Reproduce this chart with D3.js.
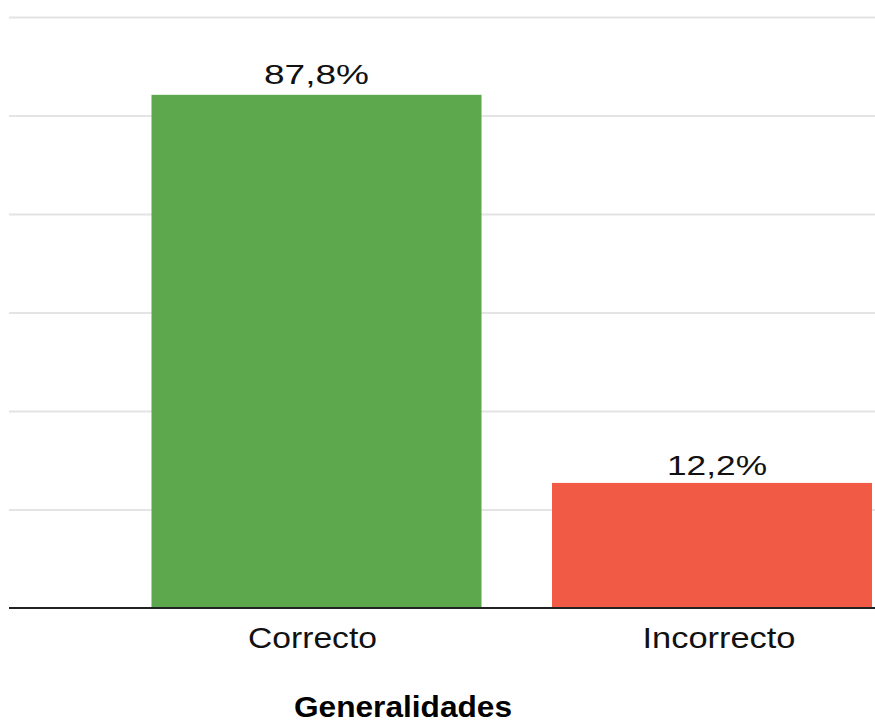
<!DOCTYPE html>
<html>
<head>
<meta charset="utf-8">
<script src="https://cdn.jsdelivr.net/npm/d3@7"></script>
<style>
  html, body { margin: 0; padding: 0; background: #fff; }
  svg { display: block; font-family: "Liberation Sans", Arial, Helvetica, sans-serif; }
</style>
</head>
<body>
<svg id="chart" width="875" height="722"></svg>
<script>
// ---- data ----
const categories = ["Correcto", "Incorrecto"];
const values = [104.2, 25.4];            // bar heights on the (hidden) value axis
const valueLabels = ["87,8%", "12,2%"];
const colors = ["#5da84c", "#f15a45"];
const yTicks = [0, 20, 40, 60, 80, 100, 120];
const axisTitle = "Generalidades";

// ---- layout ----
const svg = d3.select("#chart");
const W = 875, H = 722;
const plotLeft = 9, plotRight = 875, plotTop = 17, plotBottom = 608;

const x = d3.scaleBand()
  .domain(categories)
  .range([116.25, 917.25])
  .paddingInner(0.176)
  .paddingOuter(0.088);

const y = d3.scaleLinear()
  .domain([0, 120])
  .range([plotBottom, plotTop]);

svg.append("defs").append("clipPath").attr("id", "plotclip")
  .append("rect").attr("x", plotLeft).attr("y", 0)
  .attr("width", 872 - plotLeft).attr("height", plotBottom);

// gridlines
const yAxis = d3.axisLeft(y).tickValues(yTicks.slice(1)).tickSize(-(plotRight - plotLeft)).tickFormat("");
const gGrid = svg.append("g").attr("transform", `translate(${plotLeft},0)`).call(yAxis);
gGrid.select(".domain").remove();
gGrid.selectAll(".tick line").attr("stroke", "#e4e4e4").attr("stroke-width", 2);

// bars
const data = categories.map((c, i) => ({ c, v: values[i], label: valueLabels[i], color: colors[i] }));
svg.append("g").attr("clip-path", "url(#plotclip)")
  .selectAll("rect").data(data).enter().append("rect")
  .attr("x", d => x(d.c))
  .attr("width", x.bandwidth())
  .attr("y", d => y(d.v))
  .attr("height", d => y(0) - y(d.v))
  .attr("fill", d => d.color);

// value labels
const labelWidths = [105, 100];
svg.append("g").selectAll("text").data(data).enter().append("text")
  .attr("x", d => x(d.c) + x.bandwidth() / 2)
  .attr("y", (d, i) => y(d.v) - (i === 0 ? 11 : 8))
  .attr("text-anchor", "middle")
  .attr("font-size", 28)
  .attr("fill", "#111")
  .attr("textLength", (d, i) => labelWidths[i])
  .attr("lengthAdjust", "spacingAndGlyphs")
  .text(d => d.label);

// baseline
svg.append("line")
  .attr("x1", plotLeft).attr("x2", plotRight)
  .attr("y1", y(0)).attr("y2", y(0))
  .attr("stroke", "#222").attr("stroke-width", 2.2);

// category labels
const catWidths = [129, 153];
svg.append("g").selectAll("text").data(categories).enter().append("text")
  .attr("x", (d, i) => x(d) + x.bandwidth() / 2 + (i === 0 ? -4 : 2))
  .attr("y", 647.5)
  .attr("text-anchor", "middle")
  .attr("font-size", 30)
  .attr("fill", "#111")
  .attr("textLength", (d, i) => catWidths[i])
  .attr("lengthAdjust", "spacingAndGlyphs")
  .text(d => d);

// axis title
svg.append("text")
  .attr("x", 403)
  .attr("y", 717)
  .attr("text-anchor", "middle")
  .attr("font-size", 29)
  .attr("font-weight", "bold")
  .attr("fill", "#000")
  .attr("textLength", 218)
  .attr("lengthAdjust", "spacingAndGlyphs")
  .text(axisTitle);
</script>
</body>
</html>
